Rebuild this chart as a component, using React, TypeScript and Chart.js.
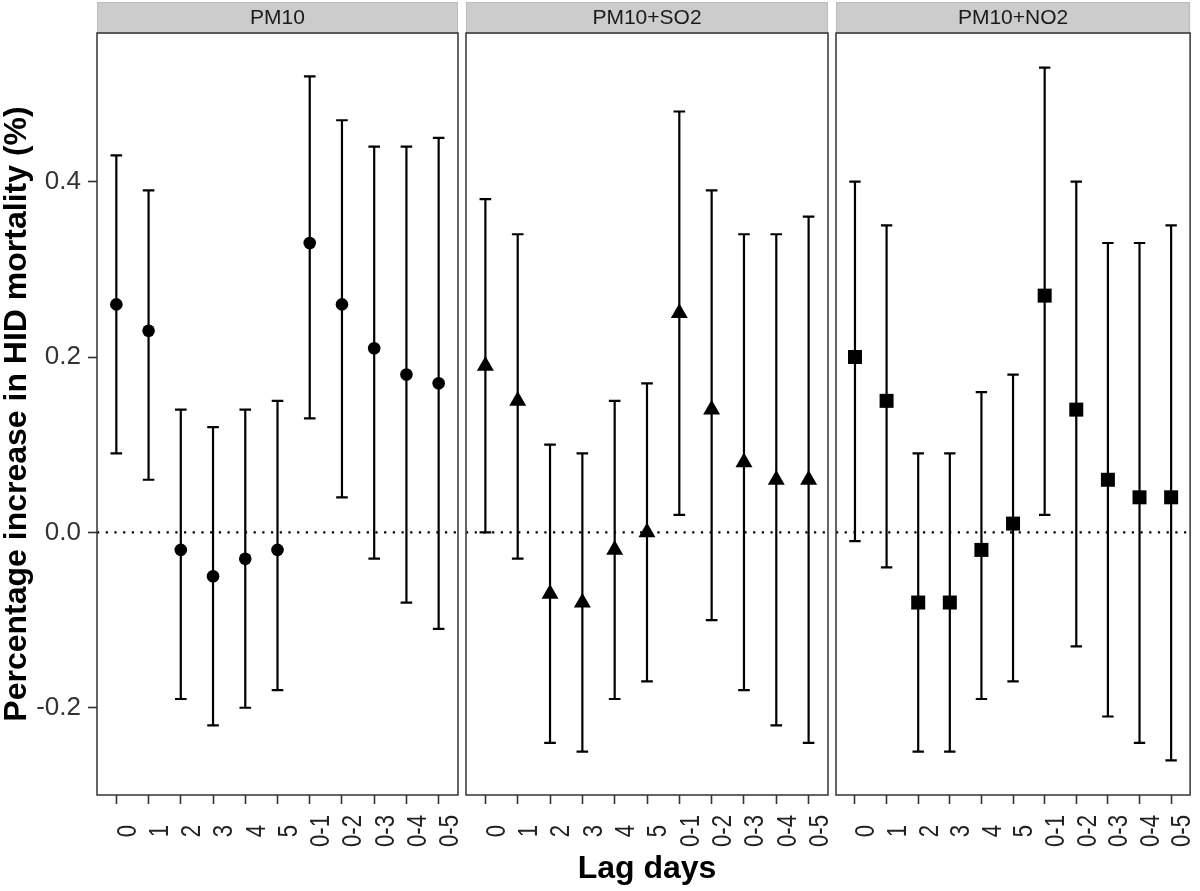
import React, { useEffect, useRef } from "react";
import { Chart, registerables } from "chart.js";
Chart.register(...registerables);

// ---------- data ----------
const lagDays = ["0", "1", "2", "3", "4", "5", "0-1", "0-2", "0-3", "0-4", "0-5"];
const panelTitles = ["PM10", "PM10+SO2", "PM10+NO2"];

const pm10Est = [0.26, 0.23, -0.02, -0.05, -0.03, -0.02, 0.33, 0.26, 0.21, 0.18, 0.17];
const pm10Low = [0.09, 0.06, -0.19, -0.22, -0.2, -0.18, 0.13, 0.04, -0.03, -0.08, -0.11];
const pm10High = [0.43, 0.39, 0.14, 0.12, 0.14, 0.15, 0.52, 0.47, 0.44, 0.44, 0.45];

const so2Est = [0.19, 0.15, -0.07, -0.08, -0.02, 0.0, 0.25, 0.14, 0.08, 0.06, 0.06];
const so2Low = [0.0, -0.03, -0.24, -0.25, -0.19, -0.17, 0.02, -0.1, -0.18, -0.22, -0.24];
const so2High = [0.38, 0.34, 0.1, 0.09, 0.15, 0.17, 0.48, 0.39, 0.34, 0.34, 0.36];

const no2Est = [0.2, 0.15, -0.08, -0.08, -0.02, 0.01, 0.27, 0.14, 0.06, 0.04, 0.04];
const no2Low = [-0.01, -0.04, -0.25, -0.25, -0.19, -0.17, 0.02, -0.13, -0.21, -0.24, -0.26];
const no2High = [0.4, 0.35, 0.09, 0.09, 0.16, 0.18, 0.53, 0.4, 0.33, 0.33, 0.35];

const yTicks = [-0.2, 0.0, 0.2, 0.4];
const yMin = -0.2995;
const yMax = 0.5695;

const yTitle = "Percentage increase in HID mortality (%)";
const xTitle = "Lag days";

// ---------- layout ----------
const W = 1200;
const H = 891;
const FONT = '"Liberation Sans", Arial, Helvetica, sans-serif';
const PLOT_TOP = 33;
const PLOT_BOTTOM = 795;

const panels = [
  { title: panelTitles[0], est: pm10Est, low: pm10Low, high: pm10High, style: "circle", radius: 6.3, left: 97, right: 458, showY: true, showXTitle: false },
  { title: panelTitles[1], est: so2Est, low: so2Low, high: so2High, style: "triangle", radius: 9.8, left: 466, right: 828, showY: false, showXTitle: true },
  { title: panelTitles[2], est: no2Est, low: no2Low, high: no2High, style: "rect", radius: 9.9, left: 836, right: 1197, showY: false, showXTitle: false },
];

function makeFacetPlugin(p: any, idx: number) {
  return {
    id: "facet" + idx,
    beforeDatasetsDraw(chart: any) {
      const { ctx, chartArea: a, scales } = chart;
      const x = scales.x;
      const y = scales.y;
      ctx.save();
      // zero reference line (dotted)
      const y0 = y.getPixelForValue(0);
      ctx.strokeStyle = "#000";
      ctx.lineWidth = 2.2;
      ctx.lineCap = "butt";
      ctx.setLineDash([2.2, 6.5]);
      ctx.beginPath();
      ctx.moveTo(a.left, y0);
      ctx.lineTo(a.right, y0);
      ctx.stroke();
      ctx.setLineDash([]);
      // error bars
      const capHalf = x.getPixelForValue(0.18) - x.getPixelForValue(0);
      ctx.lineWidth = 2.2;
      p.low.forEach((lo: number, i: number) => {
        const px = x.getPixelForValue(i);
        const yl = y.getPixelForValue(lo);
        const yh = y.getPixelForValue(p.high[i]);
        ctx.beginPath();
        ctx.moveTo(px, yl);
        ctx.lineTo(px, yh);
        ctx.moveTo(px - capHalf, yl);
        ctx.lineTo(px + capHalf, yl);
        ctx.moveTo(px - capHalf, yh);
        ctx.lineTo(px + capHalf, yh);
        ctx.stroke();
      });
      ctx.restore();
    },
    afterDraw(chart: any) {
      const { ctx, chartArea: a, scales } = chart;
      const x = scales.x;
      ctx.save();
      // strip
      ctx.fillStyle = "#cccccc";
      ctx.fillRect(a.left, 2, a.right - a.left, a.top - 2);
      ctx.strokeStyle = "#bdbdbd";
      ctx.lineWidth = 1;
      ctx.strokeRect(a.left + 0.5, 2.5, a.right - a.left - 1, a.top - 2.5);
      ctx.fillStyle = "#1a1a1a";
      ctx.font = "21px " + FONT;
      ctx.textAlign = "center";
      ctx.textBaseline = "middle";
      ctx.fillText(p.title, (a.left + a.right) / 2, 18.5);
      // panel border
      ctx.strokeStyle = "#333";
      ctx.lineWidth = 1.5;
      ctx.strokeRect(a.left, a.top, a.right - a.left, a.bottom - a.top);
      // x tick labels (rotated, centered)
      const size = 27;
      ctx.font = size + "px " + FONT;
      ctx.fillStyle = "#222";
      ctx.textAlign = "center";
      ctx.textBaseline = "alphabetic";
      lagDays.forEach((lab, i) => {
        const px = x.getPixelForValue(i);
        ctx.save();
        ctx.translate(px, 831);
        ctx.rotate(-Math.PI / 2);
        ctx.scale(0.82, 1);
        ctx.fillText(lab, 0, size * 0.716);
        ctx.restore();
      });
      ctx.restore();
    },
  };
}

export default function App() {
  const refs = [useRef<HTMLCanvasElement>(null), useRef<HTMLCanvasElement>(null), useRef<HTMLCanvasElement>(null)];

  useEffect(() => {
    Chart.defaults.font.family = FONT;
    const charts = panels.map((p, idx) => {
      const canvas = refs[idx].current as HTMLCanvasElement;
      return new Chart(canvas, {
        type: "scatter",
        data: {
          datasets: [
            {
              data: p.est.map((v, i) => ({ x: i, y: v })),
              pointStyle: p.style as any,
              pointRadius: p.radius,
              backgroundColor: "#000",
              borderColor: "#000",
              borderWidth: 0,
              showLine: false,
            },
          ],
        },
        options: {
          responsive: false,
          animation: false,
          events: [],
          layout: {
            padding: { left: p.showY ? 0 : p.left, right: W - p.right, top: PLOT_TOP, bottom: 0 },
          },
          plugins: { legend: { display: false }, tooltip: { enabled: false } },
          scales: {
            x: {
              type: "linear",
              min: -0.6,
              max: 10.6,
              afterBuildTicks: (s: any) => {
                s.ticks = lagDays.map((_, i) => ({ value: i }));
              },
              afterFit: (s: any) => {
                s.height = H - PLOT_BOTTOM;
              },
              ticks: { display: false },
              grid: { drawOnChartArea: false, drawTicks: true, tickLength: 9, tickWidth: 1.6, tickColor: "#333" },
              border: { display: false },
              title: {
                display: p.showXTitle,
                text: xTitle,
                color: "#000",
                font: { family: FONT, size: 32, weight: "bold", lineHeight: 1 },
                padding: { top: 0, bottom: 6 },
              },
            },
            y: {
              display: p.showY,
              min: yMin,
              max: yMax,
              afterBuildTicks: (s: any) => {
                s.ticks = yTicks.map((v) => ({ value: v }));
              },
              afterFit: (s: any) => {
                if (p.showY) s.width = p.left;
              },
              ticks: {
                callback: (v: any) => Number(v).toFixed(1),
                color: "#333",
                font: { family: FONT, size: 26 },
                padding: 7,
              },
              grid: { drawOnChartArea: false, drawTicks: true, tickLength: 9, tickWidth: 1.6, tickColor: "#333" },
              border: { display: false },
              title: {
                display: p.showY,
                text: yTitle,
                color: "#000",
                font: { family: FONT, size: 32, weight: "bold", lineHeight: 1 },
                padding: { top: 1, bottom: 0 },
              },
            },
          },
        },
        plugins: [makeFacetPlugin(p, idx)],
      } as any);
    });
    return () => charts.forEach((c) => c.destroy());
  }, []);

  return (
    <div style={{ position: "absolute", left: 0, top: 0, width: W, height: H, background: "#fff" }}>
      {refs.map((r, i) => (
        <canvas
          key={i}
          ref={r}
          width={W}
          height={H}
          style={{ position: "absolute", left: 0, top: 0, width: W, height: H }}
        />
      ))}
    </div>
  );
}
